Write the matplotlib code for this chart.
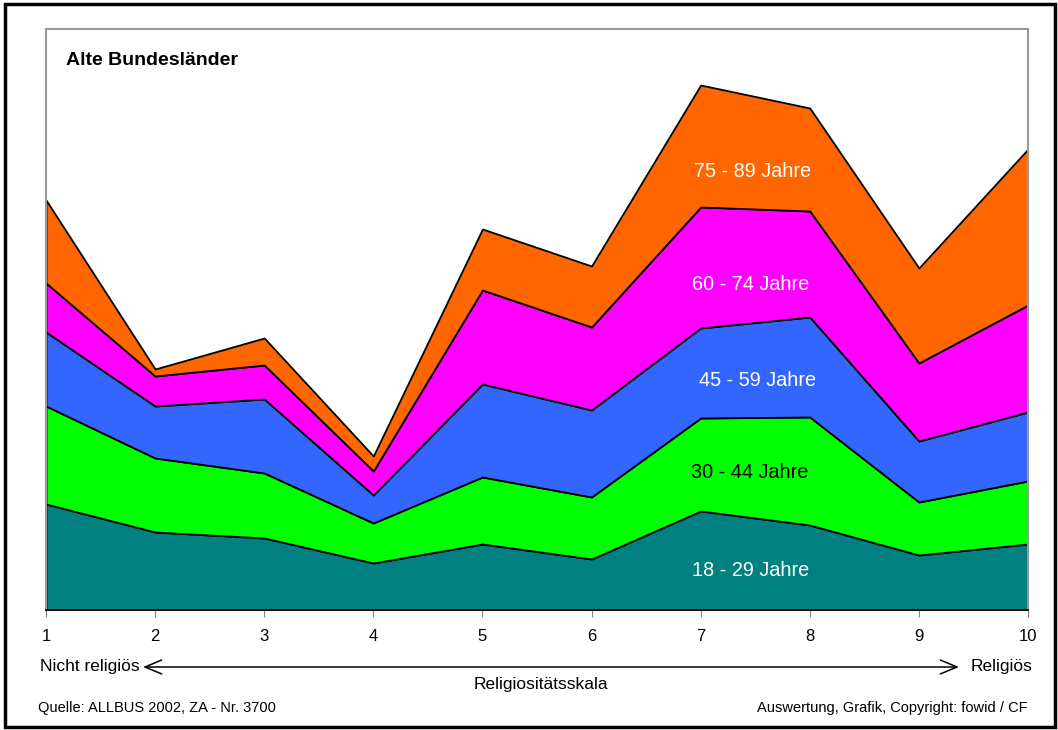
import numpy as np
from matplotlib import pyplot as plt
from matplotlib.patches import Rectangle

# religiosity scale 1..10
skala = [1, 2, 3, 4, 5, 6, 7, 8, 9, 10]

# stacked shares per age group
j18_29 = [10.6, 7.8, 7.2, 4.7, 6.6, 5.1, 9.9, 8.5, 5.5, 6.6]
j30_44 = [9.8, 7.4, 6.5, 4.0, 6.7, 6.2, 9.3, 10.8, 5.3, 6.3]
j45_59 = [7.4, 5.2, 7.4, 2.8, 9.3, 8.7, 9.0, 10.0, 6.1, 6.9]
j60_74 = [4.9, 3.0, 3.4, 2.4, 9.4, 8.3, 12.1, 10.6, 7.8, 10.7]
j75_89 = [8.3, 0.7, 2.7, 1.5, 6.1, 6.1, 12.2, 10.3, 9.5, 15.6]

gruppen = ["18 - 29 Jahre", "30 - 44 Jahre", "45 - 59 Jahre",
           "60 - 74 Jahre", "75 - 89 Jahre"]
farben = ["#008080", "#00ff00", "#3366ff", "#ff00ff", "#ff6600"]
textfarben = ["white", "black", "white", "white", "white"]

plt.rcParams['font.family'] = ['Liberation Sans', 'DejaVu Sans']

fig = plt.figure(figsize=(10.58, 7.30), dpi=100)
ax = fig.add_axes([46/1058, 1 - 610/730, 982/1058, 581/730])

werte = [j18_29, j30_44, j45_59, j60_74, j75_89]
ax.stackplot(skala, *werte, colors=farben, edgecolor="black", linewidth=1.3)

ax.set_xlim(1, 10)
ax.set_ylim(0, 58.1)
ax.set_xticks(skala)
ax.set_xticklabels([str(s) for s in skala], fontsize=12)
ax.set_yticks([])
ax.tick_params(axis="x", direction="out", length=5, color="#808080", pad=9)
for s in ["top", "left", "right"]:
    ax.spines[s].set_color("#999999")
    ax.spines[s].set_linewidth(1.5)
ax.spines["bottom"].set_color("black")
ax.spines["bottom"].set_linewidth(1.3)

# band labels inside the areas
label_y = [3.9, 13.8, 23.0, 32.6, 43.9]
label_x = [7.46, 7.45, 7.52, 7.46, 7.48]
for name, xx, yy, tc in zip(gruppen, label_x, label_y, textfarben):
    ax.text(xx, yy, name, ha="center", va="center", fontsize=14.3, color=tc)

ax.text(0.0205, 0.945, "Alte Bundesländer", transform=ax.transAxes,
        fontsize=14, fontweight="bold", ha="left", va="center")

# scale description below the axis
def fx(px):
    return px / 1058

def fy(py):
    return 1 - py / 730

fig.text(fx(40), fy(666), "Nicht religiös", ha="left", va="center", fontsize=12.5)
fig.text(fx(1033), fy(666), "Religiös", ha="right", va="center", fontsize=12.5)
fig.text(fx(541), fy(684), "Religiositätsskala", ha="center", va="center", fontsize=12.5)
ax.annotate("", xy=(fx(959), fy(667)), xytext=(fx(143), fy(667)),
            xycoords="figure fraction", textcoords="figure fraction",
            arrowprops=dict(arrowstyle="<->,head_length=1.2,head_width=0.5",
                            color="black", lw=1.1, shrinkA=0, shrinkB=0))

fig.text(fx(38), fy(708), "Quelle: ALLBUS 2002, ZA - Nr. 3700",
         ha="left", va="center", fontsize=10.5,
         family=['Liberation Sans Narrow', 'Liberation Sans', 'DejaVu Sans'])
fig.text(fx(1028), fy(708), "Auswertung, Grafik, Copyright: fowid / CF",
         ha="right", va="center", fontsize=10.5,
         family=['Liberation Sans Narrow', 'Liberation Sans', 'DejaVu Sans'])

# black frame around the whole chart
fig.patches.append(Rectangle((fx(5), fy(727)), fx(1050), 723/730,
                             transform=fig.transFigure, fill=False,
                             edgecolor="black", linewidth=2.5))

fig.savefig("out.png", dpi=100)
